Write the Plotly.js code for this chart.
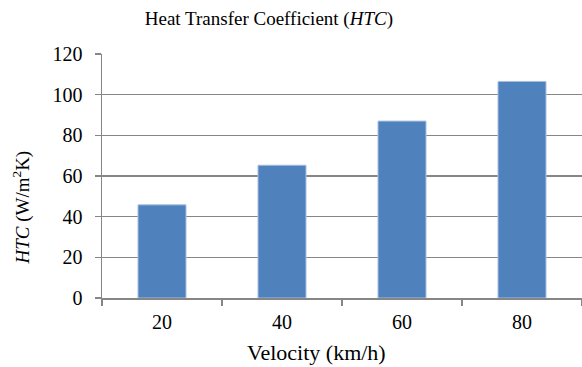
<!DOCTYPE html>
<html>
<head>
<meta charset="utf-8">
<script src="https://cdn.plot.ly/plotly-3.0.1.min.js"></script>
<style>html,body{margin:0;padding:0;background:#fff;}#chart{width:582px;height:367px;}</style>
</head>
<body>
<div id="chart"></div>
<script>
const categories = ["20", "40", "60", "80"];
const htcValues = [45.8, 65.3, 87.0, 106.5];
const yTicks = [0, 20, 40, 60, 80, 100, 120];

const font = "'Liberation Serif', 'Times New Roman', serif";
const trace = {
  type: "bar",
  x: categories,
  y: htcValues,
  width: 0.4,
  marker: {color: "#4F81BD", line: {color: "#a7bfde", width: 1}},
  hoverinfo: "x+y"
};
const layout = {
  width: 582, height: 367,
  margin: {l: 102, r: 0, t: 54, b: 69},
  paper_bgcolor: "#fff", plot_bgcolor: "#fff",
  showlegend: false,
  font: {family: font, color: "#000", size: 19},
  title: {text: "Heat Transfer Coefficient (<i>HTC</i>)", font: {family: font, size: 19, color: "#000"}, x: 0.462, xanchor: "center", y: 0.95, yanchor: "middle"},
  xaxis: {
    type: "category",
    tickson: "boundaries",
    ticks: "outside", ticklen: 6, tickcolor: "#868686", tickwidth: 1.5,
    showline: true, linecolor: "#868686", linewidth: 1.5,
    showgrid: false, zeroline: false,
    tickfont: {family: font, size: 20, color: "#000"},
    ticklabelstandoff: 5
  },
  yaxis: {
    range: [0, 120],
    tickvals: yTicks,
    ticktext: yTicks.map(String),
    ticks: "outside", ticklen: 6, tickcolor: "#868686", tickwidth: 1.5,
    showline: true, linecolor: "#868686", linewidth: 1.5,
    showgrid: true, gridcolor: "#868686", gridwidth: 1.5,
    zeroline: false,
    tickfont: {family: font, size: 20, color: "#000"},
    ticklabelstandoff: 8
  },
  annotations: [
    {text: "Velocity (km/h)", xref: "paper", yref: "paper", x: 0.446, y: -0.225,
     xanchor: "center", yanchor: "middle", showarrow: false,
     font: {family: font, size: 22, color: "#000"}},
    {text: "<i>HTC</i> (W/m<sup>2</sup>K)", xref: "paper", yref: "paper", x: -0.167, y: 0.37,
     xanchor: "center", yanchor: "middle", textangle: -90, showarrow: false,
     font: {family: font, size: 19, color: "#000"}}
  ]
};
Plotly.newPlot("chart", [trace], layout, {staticPlot: true, displayModeBar: false});
</script>
</body>
</html>
